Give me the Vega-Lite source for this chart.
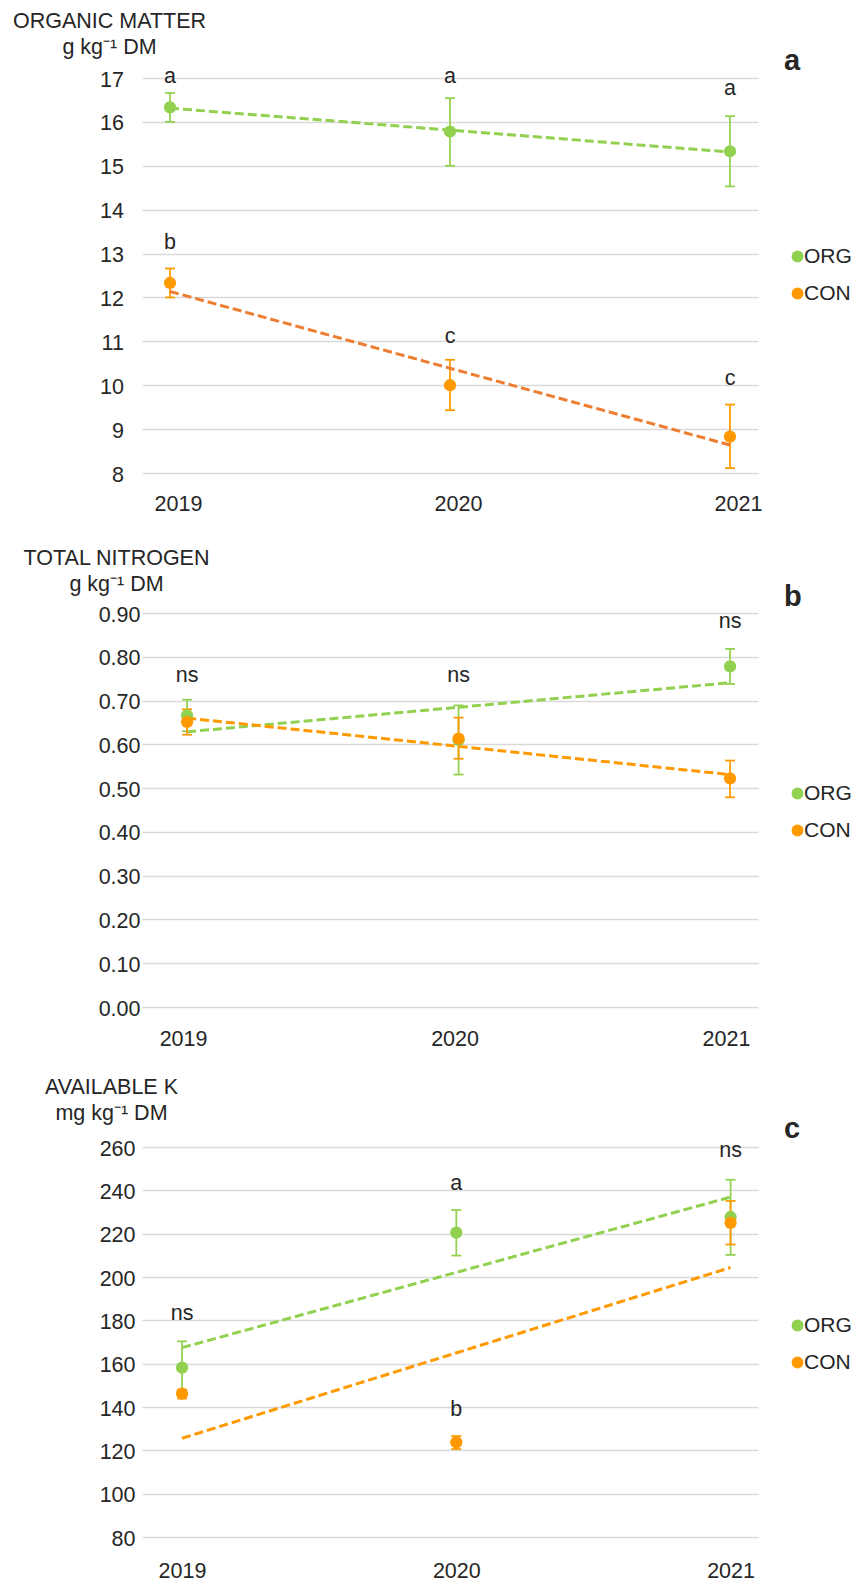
{
  "$schema": "https://vega.github.io/schema/vega-lite/v6.json",
  "background": "white",
  "autosize": {"type": "pad"},
  "padding": {"left": 12, "top": 10, "right": 0, "bottom": 0},
  "bounds": "flush",
  "spacing": 140,
  "datasets": {
    "om": [
      {"year": 2019, "group": "ORG", "mean": 16.33, "lo": 16.0, "hi": 16.66},
      {"year": 2020, "group": "ORG", "mean": 15.78, "lo": 15.0, "hi": 16.54},
      {"year": 2021, "group": "ORG", "mean": 15.33, "lo": 14.53, "hi": 16.13},
      {"year": 2019, "group": "CON", "mean": 12.33, "lo": 12.0, "hi": 12.66},
      {"year": 2020, "group": "CON", "mean": 10.0, "lo": 9.43, "hi": 10.58},
      {"year": 2021, "group": "CON", "mean": 8.83, "lo": 8.11, "hi": 9.56}
    ],
    "omlab": [
      {"year": 2019, "label": "a", "ly": 16.89},
      {"year": 2020, "label": "a", "ly": 16.89},
      {"year": 2021, "label": "a", "ly": 16.62},
      {"year": 2019, "label": "b", "ly": 13.1},
      {"year": 2020, "label": "c", "ly": 10.96},
      {"year": 2021, "label": "c", "ly": 10.01}
    ],
    "tn": [
      {"year": 2019, "group": "ORG", "mean": 0.666, "lo": 0.63, "hi": 0.702},
      {"year": 2020, "group": "ORG", "mean": 0.61, "lo": 0.531, "hi": 0.689},
      {"year": 2021, "group": "ORG", "mean": 0.778, "lo": 0.738, "hi": 0.818},
      {"year": 2019, "group": "CON", "mean": 0.651, "lo": 0.622, "hi": 0.68},
      {"year": 2020, "group": "CON", "mean": 0.613, "lo": 0.567, "hi": 0.661},
      {"year": 2021, "group": "CON", "mean": 0.522, "lo": 0.479, "hi": 0.563}
    ],
    "tnlab": [
      {"year": 2019, "label": "ns", "ly": 0.742},
      {"year": 2020, "label": "ns", "ly": 0.742},
      {"year": 2021, "label": "ns", "ly": 0.865}
    ],
    "k": [
      {"year": 2019, "group": "ORG", "mean": 158.2, "lo": 146.0, "hi": 170.3},
      {"year": 2020, "group": "ORG", "mean": 220.5, "lo": 209.9, "hi": 230.9},
      {"year": 2021, "group": "ORG", "mean": 227.7, "lo": 210.2, "hi": 244.9},
      {"year": 2019, "group": "CON", "mean": 146.2, "lo": 143.9, "hi": 148.0},
      {"year": 2020, "group": "CON", "mean": 123.7, "lo": 120.6, "hi": 126.6},
      {"year": 2021, "group": "CON", "mean": 225.0, "lo": 215.0, "hi": 235.1}
    ],
    "klab": [
      {"year": 2019, "label": "ns", "ly": 180.3},
      {"year": 2020, "label": "a", "ly": 240.3},
      {"year": 2020, "label": "b", "ly": 135.7},
      {"year": 2021, "label": "ns", "ly": 255.4}
    ]
  },
  "vconcat": [
    {
      "width": 616,
      "height": 395,
      "title": {"text": "a", "anchor": "end", "frame": "group", "align": "left", "dx": 26, "baseline": "alphabetic", "offset": -89, "fontSize": 29, "fontWeight": "bold", "color": "#262626", "font": "Liberation Sans"},
      "encoding": {
        "x": {"field": "year", "type": "quantitative", "scale": {"domain": [2018.9, 2021.1], "nice": false, "zero": false, "padding": 0},
              "axis": {"values": [2019, 2020, 2021], "format": "d", "title": null, "grid": false, "domain": false, "ticks": false, "tickSize": 0, "labelPadding": 20, "labelOffset": 8, "labelFlush": false, "labelBound": false, "labelOverlap": false}}
      },
      "layer": [
        {
          "data": {"name": "om"},
          "transform": [{"filter": "datum.group === 'ORG'"}],
          "layer": [
            {"mark": {"type": "rule", "color": "#92D050", "strokeWidth": 1.75},
             "encoding": {"y": {"field": "lo", "type": "quantitative", "scale": {"domain": [8, 17], "nice": false, "zero": false},
                                "axis": {"values": [8, 9, 10, 11, 12, 13, 14, 15, 16, 17], "format": "d", "labelPadding": 18.6, "labelOffset": 2,
                                         "title": ["ORGANIC MATTER", "g kg⁻¹ DM"], "titleX": -33, "titleY": -51}},
                          "y2": {"field": "hi"}}},
            {"mark": {"type": "tick", "orient": "horizontal", "size": 10, "thickness": 1.75, "opacity": 1, "color": "#92D050"},
             "encoding": {"y": {"field": "lo", "type": "quantitative"}}},
            {"mark": {"type": "tick", "orient": "horizontal", "size": 10, "thickness": 1.75, "opacity": 1, "color": "#92D050"},
             "encoding": {"y": {"field": "hi", "type": "quantitative"}}},
            {"transform": [{"regression": "mean", "on": "year"}],
             "mark": {"type": "line", "color": "#92D050", "strokeWidth": 3, "strokeDash": [9, 4]},
             "encoding": {"y": {"field": "mean", "type": "quantitative"}}}
          ]
        },
        {
          "data": {"name": "om"},
          "transform": [{"filter": "datum.group === 'CON'"}],
          "layer": [
            {"mark": {"type": "rule", "color": "#FF9900", "strokeWidth": 1.75},
             "encoding": {"y": {"field": "lo", "type": "quantitative"}, "y2": {"field": "hi"}}},
            {"mark": {"type": "tick", "orient": "horizontal", "size": 10, "thickness": 1.75, "opacity": 1, "color": "#FF9900"},
             "encoding": {"y": {"field": "lo", "type": "quantitative"}}},
            {"mark": {"type": "tick", "orient": "horizontal", "size": 10, "thickness": 1.75, "opacity": 1, "color": "#FF9900"},
             "encoding": {"y": {"field": "hi", "type": "quantitative"}}},
            {"transform": [{"regression": "mean", "on": "year"}],
             "mark": {"type": "line", "color": "#ED7D31", "strokeWidth": 3, "strokeDash": [9, 4]},
             "encoding": {"y": {"field": "mean", "type": "quantitative"}}}
          ]
        },
        {
          "data": {"name": "om"},
          "mark": {"type": "point", "filled": true, "size": 150, "opacity": 1, "strokeWidth": 0},
          "encoding": {
            "y": {"field": "mean", "type": "quantitative"},
            "color": {"field": "group", "type": "nominal", "scale": {"domain": ["ORG", "CON"], "range": ["#92D050", "#FF9900"]},
                      "legend": {"orient": "none", "legendX": 645, "legendY": 168, "direction": "vertical", "title": null, "symbolSize": 140, "labelOffset": -4}}
          }
        },
        {
          "data": {"name": "omlab"},
          "mark": {"type": "text", "fontSize": 21.5, "font": "Liberation Sans", "fill": "#262626", "align": "center", "baseline": "alphabetic"},
          "encoding": {
            "y": {"field": "ly", "type": "quantitative"},
            "text": {"field": "label"}
          }
        }
      ]
    },
    {
      "width": 616,
      "height": 394,
      "title": {"text": "b", "anchor": "end", "frame": "group", "align": "left", "dx": 26, "baseline": "alphabetic", "offset": -87.3, "fontSize": 29, "fontWeight": "bold", "color": "#262626", "font": "Liberation Sans"},
      "encoding": {
        "x": {"field": "year", "type": "quantitative", "scale": {"domain": [2018.834, 2021.103], "nice": false, "zero": false, "padding": 0},
              "axis": {"values": [2019, 2020, 2021], "format": "d", "title": null, "grid": false, "domain": false, "ticks": false, "tickSize": 0, "labelPadding": 21, "labelOffset": -4, "labelFlush": false, "labelBound": false, "labelOverlap": false}}
      },
      "layer": [
        {
          "data": {"name": "tn"},
          "transform": [{"filter": "datum.group === 'ORG'"}],
          "layer": [
            {"mark": {"type": "rule", "color": "#92D050", "strokeWidth": 1.75},
             "encoding": {"y": {"field": "lo", "type": "quantitative", "scale": {"domain": [0, 0.9], "nice": false, "zero": false},
                                "axis": {"values": [0, 0.1, 0.2, 0.3, 0.4, 0.5, 0.6, 0.7, 0.8, 0.9], "format": ".2f", "labelPadding": 2, "labelOffset": 2,
                                         "title": ["TOTAL NITROGEN", "g kg⁻¹ DM"], "titleX": -26, "titleY": -48.3}},
                          "y2": {"field": "hi"}}},
            {"mark": {"type": "tick", "orient": "horizontal", "size": 10, "thickness": 1.75, "opacity": 1, "color": "#92D050"},
             "encoding": {"y": {"field": "lo", "type": "quantitative"}}},
            {"mark": {"type": "tick", "orient": "horizontal", "size": 10, "thickness": 1.75, "opacity": 1, "color": "#92D050"},
             "encoding": {"y": {"field": "hi", "type": "quantitative"}}},
            {"transform": [{"regression": "mean", "on": "year"}],
             "mark": {"type": "line", "color": "#92D050", "strokeWidth": 3, "strokeDash": [9, 4]},
             "encoding": {"y": {"field": "mean", "type": "quantitative"}}}
          ]
        },
        {
          "data": {"name": "tn"},
          "transform": [{"filter": "datum.group === 'CON'"}],
          "layer": [
            {"mark": {"type": "rule", "color": "#FF9900", "strokeWidth": 1.75},
             "encoding": {"y": {"field": "lo", "type": "quantitative"}, "y2": {"field": "hi"}}},
            {"mark": {"type": "tick", "orient": "horizontal", "size": 10, "thickness": 1.75, "opacity": 1, "color": "#FF9900"},
             "encoding": {"y": {"field": "lo", "type": "quantitative"}}},
            {"mark": {"type": "tick", "orient": "horizontal", "size": 10, "thickness": 1.75, "opacity": 1, "color": "#FF9900"},
             "encoding": {"y": {"field": "hi", "type": "quantitative"}}},
            {"transform": [{"regression": "mean", "on": "year"}],
             "mark": {"type": "line", "color": "#FF9900", "strokeWidth": 3, "strokeDash": [9, 4]},
             "encoding": {"y": {"field": "mean", "type": "quantitative"}}}
          ]
        },
        {
          "data": {"name": "tn"},
          "mark": {"type": "point", "filled": true, "size": 150, "opacity": 1, "strokeWidth": 0},
          "encoding": {
            "y": {"field": "mean", "type": "quantitative"},
            "color": {"field": "group", "type": "nominal", "scale": {"domain": ["ORG", "CON"], "range": ["#92D050", "#FF9900"]},
                      "legend": {"orient": "none", "legendX": 645, "legendY": 170, "direction": "vertical", "title": null, "symbolSize": 140, "labelOffset": -4}}
          }
        },
        {
          "data": {"name": "tnlab"},
          "mark": {"type": "text", "fontSize": 21.5, "font": "Liberation Sans", "fill": "#262626", "align": "center", "baseline": "alphabetic"},
          "encoding": {
            "y": {"field": "ly", "type": "quantitative"},
            "text": {"field": "label"}
          }
        }
      ]
    },
    {
      "width": 616,
      "height": 390,
      "title": {"text": "c", "anchor": "end", "frame": "group", "align": "left", "dx": 26, "baseline": "alphabetic", "offset": -91.4, "fontSize": 29, "fontWeight": "bold", "color": "#262626", "font": "Liberation Sans"},
      "encoding": {
        "x": {"field": "year", "type": "quantitative", "scale": {"domain": [2018.854, 2021.1], "nice": false, "zero": false, "padding": 0},
              "axis": {"values": [2019, 2020, 2021], "format": "d", "title": null, "grid": false, "domain": false, "ticks": false, "tickSize": 0, "labelPadding": 23, "labelOffset": 0, "labelFlush": false, "labelBound": false, "labelOverlap": false}}
      },
      "layer": [
        {
          "data": {"name": "k"},
          "transform": [{"filter": "datum.group === 'ORG'"}],
          "layer": [
            {"mark": {"type": "rule", "color": "#92D050", "strokeWidth": 1.75},
             "encoding": {"y": {"field": "lo", "type": "quantitative", "scale": {"domain": [80, 260], "nice": false, "zero": false},
                                "axis": {"values": [80, 100, 120, 140, 160, 180, 200, 220, 240, 260], "format": "d", "labelPadding": 7, "labelOffset": 2,
                                         "title": ["AVAILABLE K", "mg kg⁻¹ DM"], "titleX": -31, "titleY": -54}},
                          "y2": {"field": "hi"}}},
            {"mark": {"type": "tick", "orient": "horizontal", "size": 10, "thickness": 1.75, "opacity": 1, "color": "#92D050"},
             "encoding": {"y": {"field": "lo", "type": "quantitative"}}},
            {"mark": {"type": "tick", "orient": "horizontal", "size": 10, "thickness": 1.75, "opacity": 1, "color": "#92D050"},
             "encoding": {"y": {"field": "hi", "type": "quantitative"}}},
            {"transform": [{"regression": "mean", "on": "year"}],
             "mark": {"type": "line", "color": "#92D050", "strokeWidth": 3, "strokeDash": [9, 4]},
             "encoding": {"y": {"field": "mean", "type": "quantitative"}}}
          ]
        },
        {
          "data": {"name": "k"},
          "transform": [{"filter": "datum.group === 'CON'"}],
          "layer": [
            {"mark": {"type": "rule", "color": "#FF9900", "strokeWidth": 1.75},
             "encoding": {"y": {"field": "lo", "type": "quantitative"}, "y2": {"field": "hi"}}},
            {"mark": {"type": "tick", "orient": "horizontal", "size": 10, "thickness": 1.75, "opacity": 1, "color": "#FF9900"},
             "encoding": {"y": {"field": "lo", "type": "quantitative"}}},
            {"mark": {"type": "tick", "orient": "horizontal", "size": 10, "thickness": 1.75, "opacity": 1, "color": "#FF9900"},
             "encoding": {"y": {"field": "hi", "type": "quantitative"}}},
            {"transform": [{"regression": "mean", "on": "year"}],
             "mark": {"type": "line", "color": "#FF9900", "strokeWidth": 3, "strokeDash": [9, 4]},
             "encoding": {"y": {"field": "mean", "type": "quantitative"}}}
          ]
        },
        {
          "data": {"name": "k"},
          "mark": {"type": "point", "filled": true, "size": 150, "opacity": 1, "strokeWidth": 0},
          "encoding": {
            "y": {"field": "mean", "type": "quantitative"},
            "color": {"field": "group", "type": "nominal", "scale": {"domain": ["ORG", "CON"], "range": ["#92D050", "#FF9900"]},
                      "legend": {"orient": "none", "legendX": 645, "legendY": 168, "direction": "vertical", "title": null, "symbolSize": 140, "labelOffset": -4}}
          }
        },
        {
          "data": {"name": "klab"},
          "mark": {"type": "text", "fontSize": 21.5, "font": "Liberation Sans", "fill": "#262626", "align": "center", "baseline": "alphabetic"},
          "encoding": {
            "y": {"field": "ly", "type": "quantitative"},
            "text": {"field": "label"}
          }
        }
      ]
    }
  ],
  "resolve": {
    "scale": {"color": "independent", "x": "independent", "y": "independent"},
    "legend": {"color": "independent"}
  },
  "config": {
    "view": {"stroke": null},
    "font": "Liberation Sans",
    "axis": {
      "labelFont": "Liberation Sans",
      "labelFontSize": 21.5,
      "labelColor": "#262626",
      "titleFont": "Liberation Sans",
      "titleFontSize": 21.5,
      "titleFontWeight": "normal",
      "titleColor": "#262626",
      "titleLineHeight": 26,
      "titleAngle": 0,
      "titleAlign": "center",
      "titleBaseline": "alphabetic"
    },
    "axisY": {
      "grid": true,
      "gridColor": "#D9D9D9",
      "gridWidth": 1.5,
      "domain": false,
      "ticks": false,
      "tickSize": 0,
      "titleAngle": 0,
      "titleAlign": "center",
      "titleBaseline": "alphabetic"
    },
    "legend": {
      "padding": 0,
      "symbolType": "circle",
      "symbolSize": 140,
      "symbolStrokeWidth": 0,
      "labelFont": "Liberation Sans",
      "labelFontSize": 21,
      "labelColor": "#262626",
      "rowPadding": 15
    }
  }
}
